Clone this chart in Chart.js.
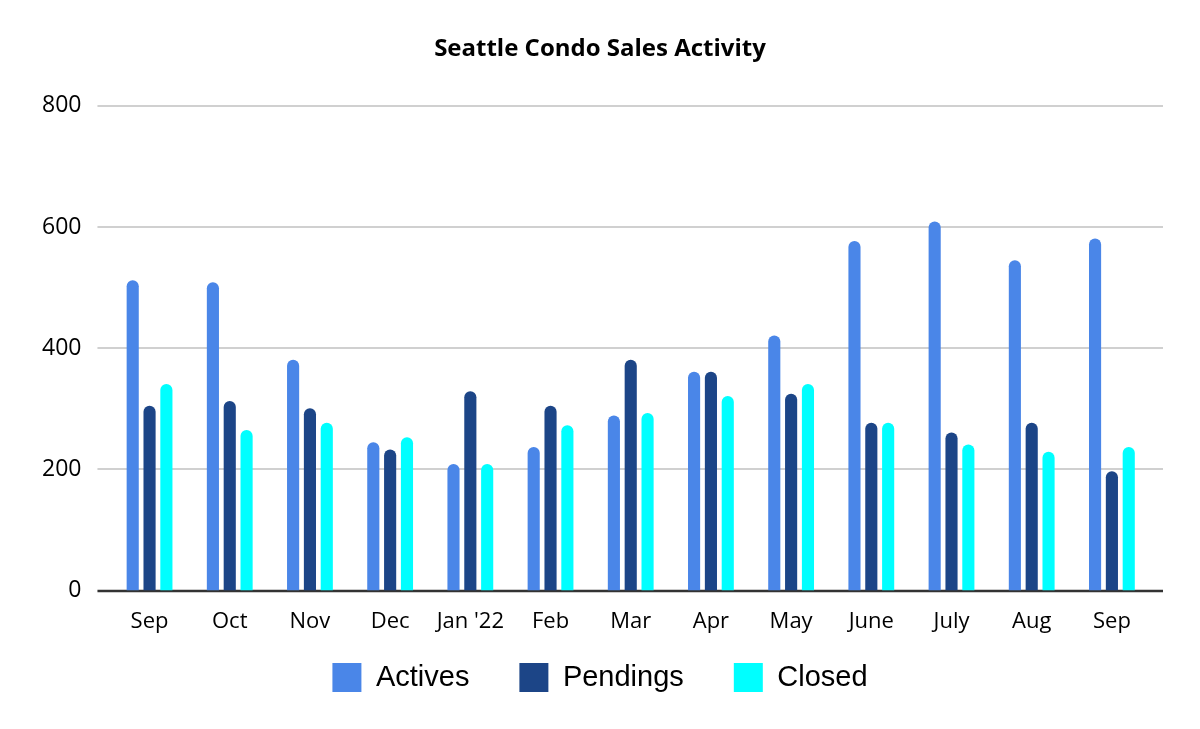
<!DOCTYPE html>
<html>
<head>
<meta charset="utf-8">
<script src="https://cdn.jsdelivr.net/npm/chart.js@4"></script>
<style>
  html, body { margin: 0; padding: 0; background: #fff; }
  #wrap { width: 1200px; height: 729px; }
</style>
</head>
<body>
<div id="wrap"><canvas id="chart" width="1200" height="729"></canvas></div>
<script>
// Chart data
const months = ['Sep', 'Oct', 'Nov', 'Dec', "Jan '22", 'Feb', 'Mar', 'Apr', 'May', 'June', 'July', 'Aug', 'Sep'];
const actives = [512, 509, 381, 245, 209, 237, 289, 361, 421, 577, 609, 545, 581];
const pendings = [305, 313, 301, 233, 329, 305, 381, 361, 325, 277, 261, 277, 197];
const closed = [341, 265, 277, 253, 209, 273, 293, 321, 341, 277, 241, 229, 237];
const yTicks = [0, 200, 400, 600, 800];

const fontFamily = "'Open Sans', 'Noto Sans', sans-serif";
const legendFont = "'Liberation Sans', Arial, sans-serif";

// Draw the horizontal grid lines a little wider than the bar area, like the original
const wideGrid = {
    id: 'wideGrid',
    beforeDatasetsDraw(chart) {
        const ctx = chart.ctx;
        const y = chart.scales.y;
        const area = chart.chartArea;
        ctx.save();
        yTicks.forEach(v => {
            const py = Math.round(y.getPixelForValue(v));
            ctx.beginPath();
            ctx.lineWidth = v === 0 ? 2.5 : 2;
            ctx.strokeStyle = v === 0 ? '#333333' : '#d0d0d0';
            ctx.moveTo(area.left - 12, py);
            ctx.lineTo(area.right + 11, py);
            ctx.stroke();
        });
        ctx.restore();
    }
};

// Center title and legend on the page and pull the legend up under the month labels
const placeBoxes = {
    id: 'placeBoxes',
    afterLayout(chart) {
        const mid = chart.width / 2;
        [chart.titleBlock, chart.legend].forEach(box => {
            const dx = mid - (box.left + box.right) / 2;
            box.left += dx;
            box.right += dx;
        });
        chart.legend.top -= 40;
        chart.legend.bottom -= 40;
    }
};

const ctx = document.getElementById('chart').getContext('2d');
const chart = new Chart(ctx, {
    type: 'bar',
    data: {
        labels: months,
        datasets: [
            { label: 'Actives', data: actives, backgroundColor: '#4a86e8' },
            { label: 'Pendings', data: pendings, backgroundColor: '#1c4587' },
            { label: 'Closed', data: closed, backgroundColor: '#00ffff' }
        ]
    },
    options: {
        responsive: false,
        animation: false,
        devicePixelRatio: 1,
        layout: { padding: { left: 14, right: 48, top: 18, bottom: -13 } },
        datasets: {
            bar: {
                categoryPercentage: 0.63,
                barPercentage: 0.72,
                borderRadius: { topLeft: 6, topRight: 6 },
                borderSkipped: 'start'
            }
        },
        plugins: {
            title: {
                display: true,
                text: 'Seattle Condo Sales Activity',
                color: '#000',
                font: { family: fontFamily, size: 24, weight: 'bold' },
                padding: { top: 17, bottom: 42 }
            },
            legend: {
                position: 'bottom',
                labels: {
                    color: '#000',
                    boxWidth: 29,
                    boxHeight: 29,
                    padding: 50,
                    font: { family: legendFont, size: 29 }
                }
            },
            tooltip: { enabled: false }
        },
        scales: {
            x: {
                grid: { display: false, drawTicks: false },
                border: { display: false },
                ticks: {
                    color: '#000',
                    padding: 18,
                    maxRotation: 0,
                    autoSkip: false,
                    font: { family: fontFamily, size: 22 }
                }
            },
            y: {
                min: 0,
                max: 800,
                grid: { display: false, drawTicks: false },
                border: { display: false },
                afterBuildTicks: scale => { scale.ticks = yTicks.map(v => ({ value: v })); },
                ticks: {
                    color: '#000',
                    padding: 28,
                    font: { family: fontFamily, size: 23 }
                }
            }
        }
    },
    plugins: [wideGrid, placeBoxes]
});
</script>
</body>
</html>
